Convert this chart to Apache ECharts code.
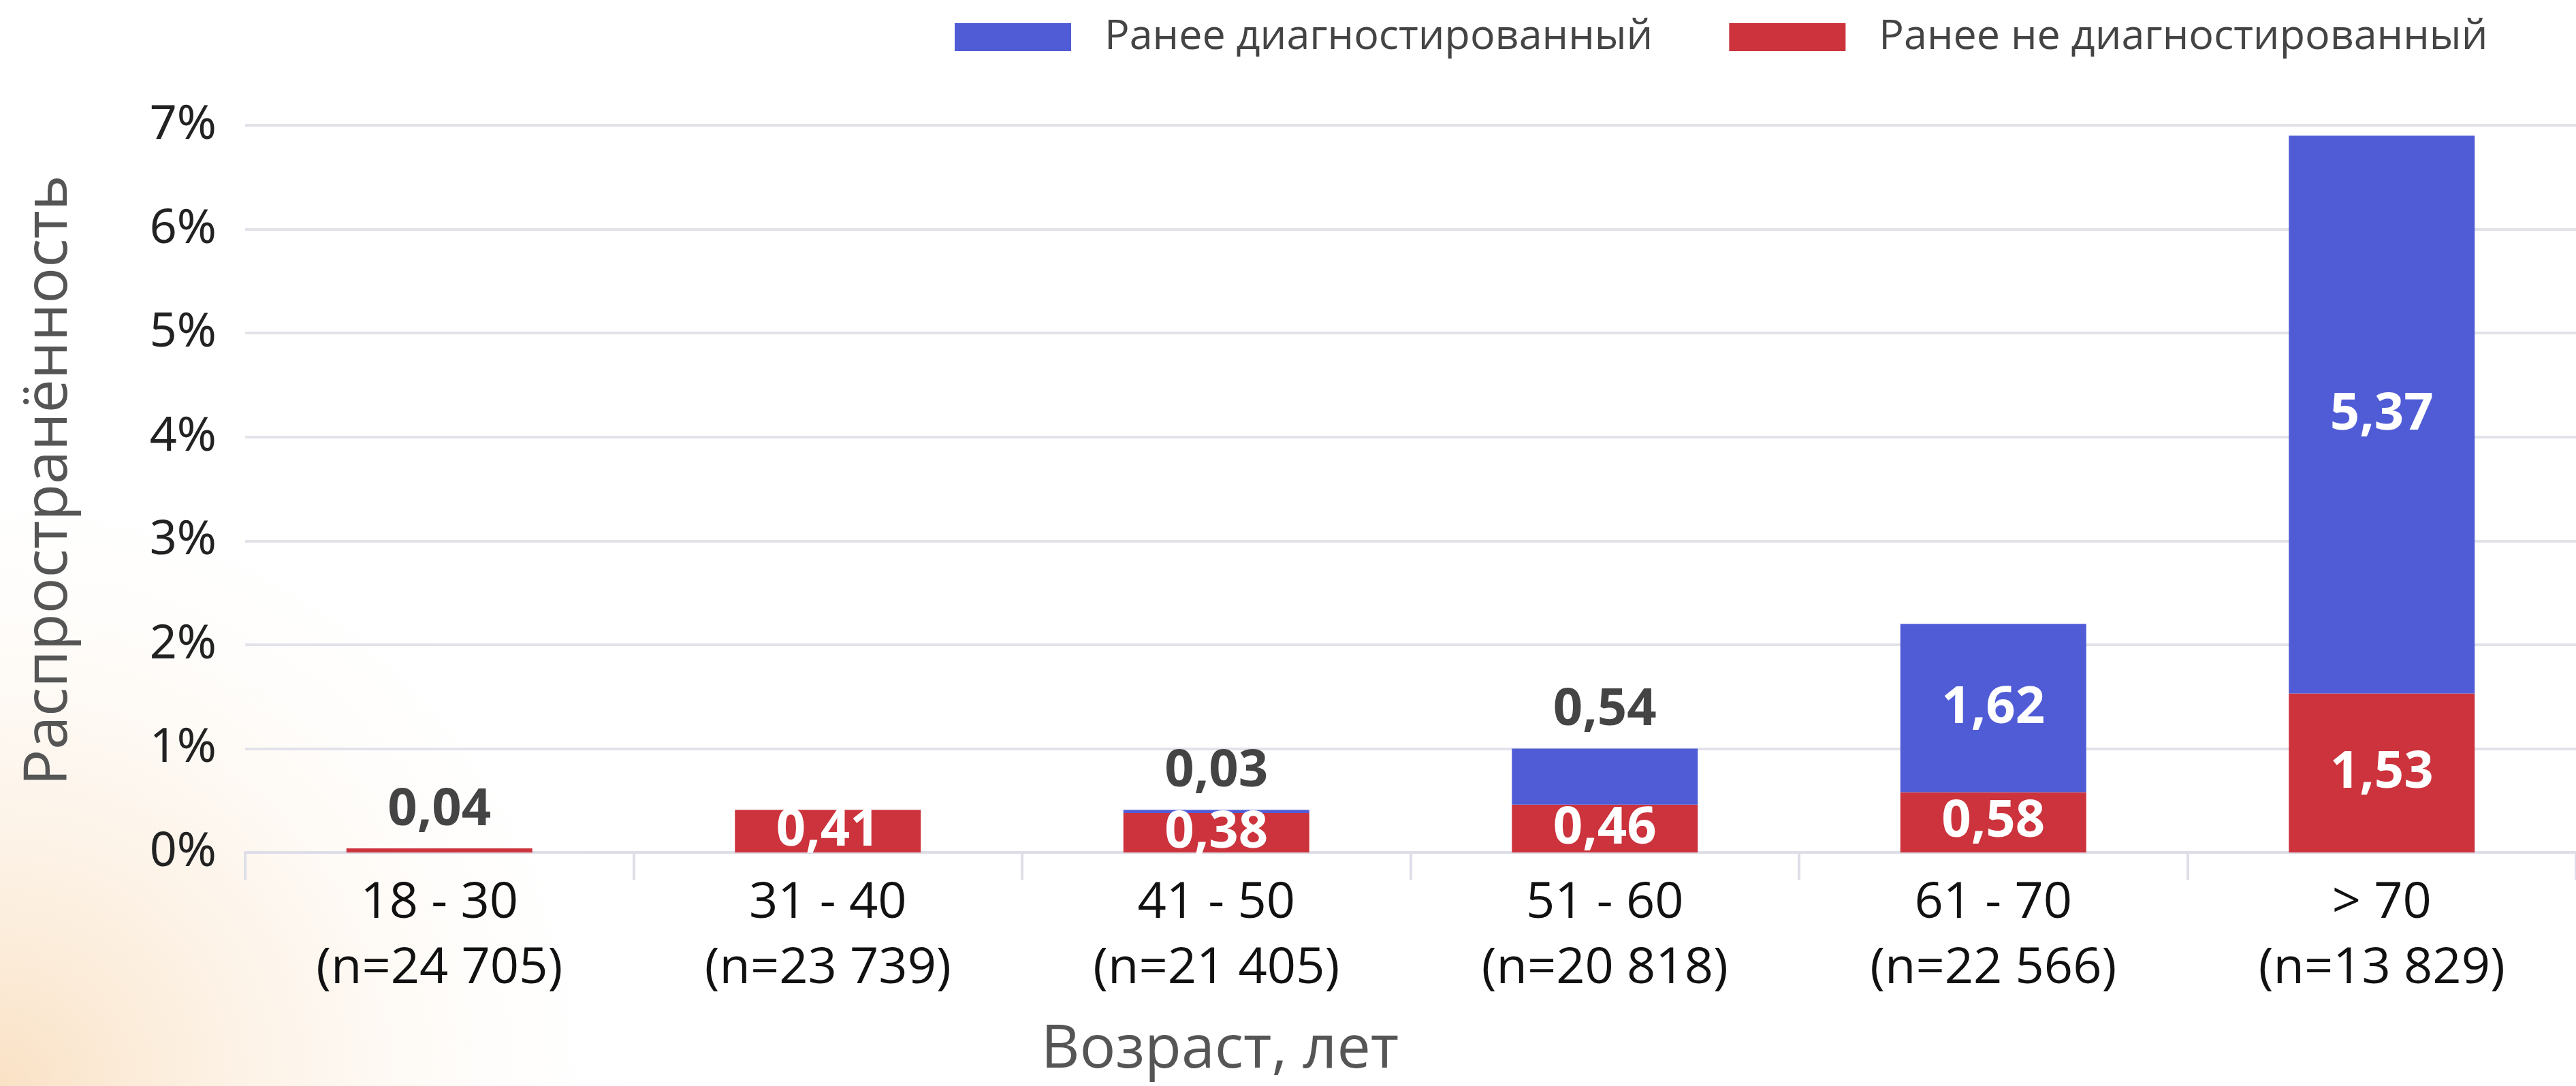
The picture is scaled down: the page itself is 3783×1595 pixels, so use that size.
<!DOCTYPE html>
<html>
<head>
<meta charset="utf-8">
<script src="https://cdn.jsdelivr.net/npm/echarts@6/dist/echarts.min.js"></script>
<style>
html,body{margin:0;padding:0;background:#fff;}
#chart{width:3783px;height:1595px;}
</style>
</head>
<body>
<div id="chart"></div>
<script>
const categories = ['18 - 30', '31 - 40', '41 - 50', '51 - 60', '61 - 70', '> 70'];
const sampleSizes = ['24 705', '23 739', '21 405', '20 818', '22 566', '13 829'];
const undiagnosed = [0.04, 0.41, 0.38, 0.46, 0.58, 1.53];
const diagnosed = [null, null, 0.03, 0.54, 1.62, 5.37];
const seriesNames = ['Ранее диагностированный', 'Ранее не диагностированный'];
const yTickMin = 0, yTickMax = 7, yTickStep = 1;

const BLUE = '#505cd6', RED = '#cc333c';
const fmt = v => v.toFixed(2).replace('.', ',');
function items(arr, thr) {
  return arr.map(v => v == null ? null : {
    value: v,
    label: v < thr
      ? { position: 'top', color: '#444', distance: 18 }
      : { position: 'inside', color: '#fff' }
  });
}

const chart = echarts.init(document.getElementById('chart'));
chart.setOption({
  backgroundColor: '#fff',
  animation: false,
  graphic: [{
    type: 'rect', z: -10, silent: true,
    shape: { x: 0, y: 0, width: 3783, height: 1595 },
    style: {
      fill: { type: 'radial', x: 0, y: 1, r: 0.6,
        colorStops: [{ offset: 0, color: 'rgba(249,222,190,0.9)' },
                     { offset: 0.5, color: 'rgba(252,238,222,0.5)' },
                     { offset: 1, color: 'rgba(255,255,255,0)' }] }
    }
  }],
  legend: {
    data: seriesNames,
    left: 1397, top: 19,
    itemWidth: 171, itemHeight: 41, itemGap: 112,
    icon: 'rect',
    textStyle: { fontFamily: 'Open Sans', fontSize: 61, color: '#444', padding: [0, 0, 0, 44] }
  },
  grid: { left: 360, right: -19, top: 184, bottom: 343, containLabel: false },
  xAxis: {
    type: 'category',
    data: categories.map((c, i) => c + '\n(n=' + sampleSizes[i] + ')'),
    name: 'Возраст, лет',
    nameLocation: 'middle',
    nameGap: 247,
    nameTextStyle: { fontFamily: 'Open Sans', fontSize: 88, color: '#555', padding: [0, 560, 0, 0] },
    axisLine: { show: true, lineStyle: { color: '#dedee8', width: 4 } },
    axisTick: { show: true, length: 40, lineStyle: { color: '#dedee8', width: 4 } },
    axisLabel: { fontFamily: 'Open Sans', fontSize: 74, color: '#111', lineHeight: 96, margin: 27 }
  },
  yAxis: {
    type: 'value',
    min: yTickMin, max: yTickMax, interval: yTickStep,
    name: 'Распространённость',
    nameLocation: 'middle',
    nameRotate: 90,
    nameGap: 243,
    nameTextStyle: { fontFamily: 'Open Sans', fontSize: 88, color: '#555', padding: [0, 0, 0, 25] },
    axisLine: { show: false },
    axisTick: { show: false },
    axisLabel: { formatter: '{value}%', fontFamily: 'Noto Sans', fontSize: 70, color: '#222', margin: 42 },
    splitLine: { lineStyle: { color: '#e2e2ea', width: 4 } }
  },
  series: [
    {
      name: seriesNames[1], type: 'bar', stack: 'total',
      data: items(undiagnosed, 0.1),
      barWidth: 273,
      itemStyle: { color: RED },
      label: { show: true, formatter: p => fmt(p.value), fontFamily: 'Open Sans', fontWeight: 'bold', fontSize: 76 }
    },
    {
      name: seriesNames[0], type: 'bar', stack: 'total',
      data: items(diagnosed, 1),
      barWidth: 273,
      itemStyle: { color: BLUE },
      label: { show: true, formatter: p => fmt(p.value), fontFamily: 'Open Sans', fontWeight: 'bold', fontSize: 76 }
    }
  ]
});
</script>
</body>
</html>
